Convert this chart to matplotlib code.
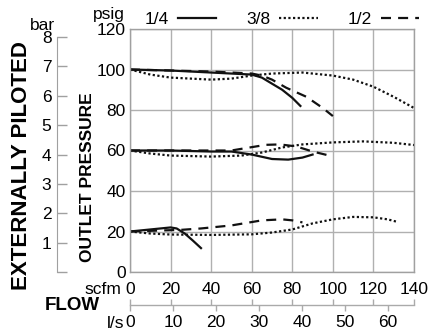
import matplotlib
matplotlib.use("Agg")
import matplotlib.pyplot as plt
from matplotlib.lines import Line2D

plt.rcParams['font.family'] = ['Liberation Sans', 'DejaVu Sans']

# ---------------- data (scfm, psig) ----------------
size_labels = ["1/4", "3/8", "1/2"]
y_ticks_psig = [0, 20, 40, 60, 80, 100, 120]
x_ticks_scfm = [0, 20, 40, 60, 80, 100, 120, 140]
x_ticks_ls = [0, 10, 20, 30, 40, 50, 60]
y_ticks_bar = [0, 1, 2, 3, 4, 5, 6, 7, 8]

# 100 psig set point
q14_100_x = [0, 20, 40, 60, 65, 70, 75, 80, 84]
q14_100_y = [100, 99.5, 98.5, 97.5, 96, 93, 90, 86, 82]
q38_100_x = [0, 10, 20, 40, 50, 60, 70, 85, 100, 110, 120, 130, 140]
q38_100_y = [100, 97.5, 96, 95, 95.5, 97, 98, 98.5, 97, 95, 91.5, 86.5, 81]
q12_100_x = [0, 20, 40, 60, 65, 70, 77, 87, 95, 100]
q12_100_y = [100, 99.5, 99, 98, 97, 95, 91, 86.5, 81, 77]

# 60 psig set point
q14_60_x = [0, 20, 40, 50, 60, 70, 78, 85, 90]
q14_60_y = [60, 60, 59.5, 59.5, 58, 55.8, 55.5, 56.5, 58]
q38_60_x = [0, 10, 20, 40, 55, 65, 75, 85, 100, 115, 130, 140]
q38_60_y = [60, 58.5, 57.5, 57, 57.5, 59, 61.5, 63, 64, 64.5, 63.8, 62.7]
q12_60_x = [0, 20, 40, 50, 56, 67, 74, 82, 90, 97]
q12_60_y = [60, 60, 60, 60, 61, 62.8, 63, 62, 59.5, 57.8]

# 20 psig set point
q14_20_x = [0, 10, 20, 23, 27, 31, 35]
q14_20_y = [20, 21, 22, 21.5, 19, 15.5, 11.8]
q38_20_x = [0, 10, 20, 40, 60, 70, 80, 90, 100, 110, 120, 127, 132]
q38_20_y = [20, 19, 18.5, 18.3, 18.6, 19.5, 21, 24, 26, 27.2, 27, 26, 24.7]
q12_20_x = [0, 15, 25, 35, 50, 65, 75, 80, 85]
q12_20_y = [20, 20.5, 20.8, 21.5, 23, 25.5, 26, 25.5, 24.5]

PSI_PER_BAR = 14.5038
SCFM_PER_LS = 2.1189

# ---------------- figure ----------------
W, H = 434, 331
fig = plt.figure(figsize=(W / 100, H / 100), dpi=100)

def fx(px):
    return px / W

def fy(py):
    return 1 - py / H

FS = 12.5
ax_l, ax_r, ax_t, ax_b = 130, 414, 29, 272
ax = fig.add_axes([fx(ax_l), fy(ax_b), (ax_r - ax_l) / W, (ax_b - ax_t) / H])

solid = dict(color='#111111', lw=1.6, linestyle='-')
dotted = dict(color='#111111', lw=1.6, linestyle=(0, (1, 1.1)))
dashed = dict(color='#111111', lw=1.6, linestyle=(0, (4.5, 3.2)))

ax.plot(q38_100_x, q38_100_y, **dotted)
ax.plot(q12_100_x, q12_100_y, **dashed)
ax.plot(q14_100_x, q14_100_y, **solid)
ax.plot(q38_60_x, q38_60_y, **dotted)
ax.plot(q12_60_x, q12_60_y, **dashed)
ax.plot(q14_60_x, q14_60_y, **solid)
ax.plot(q38_20_x, q38_20_y, **dotted)
ax.plot(q12_20_x, q12_20_y, **dashed)
ax.plot(q14_20_x, q14_20_y, **solid)

ax.set_xlim(0, 140)
ax.set_ylim(0, 120)
ax.set_xticks(x_ticks_scfm)
ax.set_yticks(y_ticks_psig)
ax.grid(True, color='#b0b0b0', lw=1.0)
ax.set_axisbelow(True)
for s in ax.spines.values():
    s.set_color('#a0a0a0')
    s.set_linewidth(1.0)
ax.tick_params(axis='both', length=0, labelsize=FS, colors='black')
ax.tick_params(axis='y', pad=3)
ax.tick_params(axis='x', pad=7)

# bar axis
secy = ax.secondary_yaxis((57 - ax_l) / (ax_r - ax_l),
                          functions=(lambda p: p / PSI_PER_BAR, lambda b: b * PSI_PER_BAR))
secy.set_yticks(y_ticks_bar)
secy.set_yticklabels([''] + [str(v) for v in y_ticks_bar[1:]])
secy.spines['left'].set_bounds(0, 8)
secy.spines['left'].set_color('#a0a0a0')
secy.tick_params(direction='in', length=7, width=1.0, color='#a0a0a0',
                 labelsize=FS, labelcolor='black', pad=4)

# flow axis (scfm ticks up, l/s ticks down)
flow_loc = (ax_b - 305) / (ax_b - ax_t)
secx1 = ax.secondary_xaxis(flow_loc)
secx1.set_xticks(x_ticks_scfm)
secx1.set_xticklabels([])
secx1.spines['bottom'].set_color('#aaaaaa')
secx1.spines['bottom'].set_linewidth(1.0)
secx1.tick_params(direction='in', length=4.5, width=1.0, color='#aaaaaa')

secx2 = ax.secondary_xaxis(flow_loc, functions=(lambda q: q / SCFM_PER_LS, lambda l: l * SCFM_PER_LS))
secx2.set_xticks(x_ticks_ls)
secx2.spines['bottom'].set_visible(False)
secx2.tick_params(direction='out', length=4.5, width=1.0, color='#aaaaaa',
                  labelsize=FS, pad=2.5)

# texts
fig.text(fx(22), fy(166), 'EXTERNALLY PILOTED', rotation=90, fontsize=16,
         fontweight='bold', ha='center', va='center')
fig.text(fx(87), fy(177), 'OUTLET PRESSURE', rotation=90, fontsize=12.5,
         fontweight='bold', ha='center', va='center')
fig.text(fx(72), fy(305), 'FLOW', fontsize=13.5, fontweight='bold', ha='center', va='center')
fig.text(fx(121), fy(289), 'scfm', fontsize=FS, ha='right', va='center')
fig.text(fx(124), fy(324), 'l/s', fontsize=FS, ha='right', va='center')
fig.text(fx(109), fy(14), 'psig', fontsize=FS, ha='center', va='center')
fig.text(fx(42), fy(25), 'bar', fontsize=FS, ha='center', va='center')

# legend (label before line)
handles = [Line2D([], [], **solid), Line2D([], [], **dotted), Line2D([], [], **dashed)]
fig.legend(handles, size_labels, ncol=3, markerfirst=False, frameon=False,
           loc='center left', bbox_to_anchor=(fx(145), fy(19)), fontsize=FS,
           handlelength=2.2, handletextpad=0.5, columnspacing=1.75, borderpad=0,
           borderaxespad=0)

fig.savefig('out.png', dpi=100)
